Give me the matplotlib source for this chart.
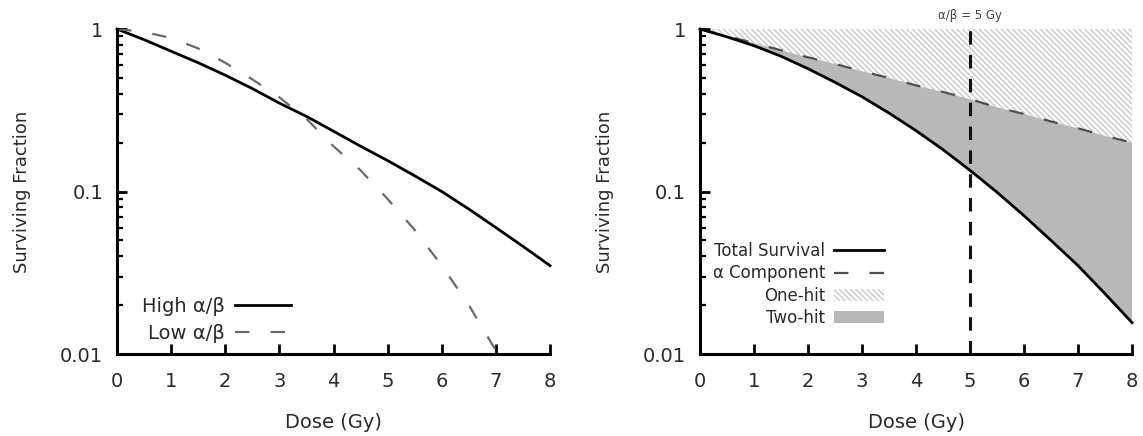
import matplotlib.pyplot as plt
from matplotlib.patches import Patch
from matplotlib.lines import Line2D

# Dose points (Gy)
dose = [0, 0.5, 1, 1.5, 2, 2.5, 3, 3.5, 4, 4.5, 5, 5.5, 6, 6.5, 7, 7.5, 8]

# Left panel: surviving fraction for high / low alpha/beta tissue
high_ab = [1, 0.86, 0.73, 0.62, 0.52, 0.43, 0.35, 0.29, 0.235, 0.19,
           0.155, 0.125, 0.10, 0.078, 0.06, 0.046, 0.035]
dose_low = [0, 0.5, 1, 1.5, 2, 2.5, 3, 3.5, 4, 4.5, 5, 5.5, 6, 6.5, 7]
low_ab = [1, 0.96, 0.88, 0.76, 0.62, 0.49, 0.38, 0.28, 0.19, 0.135,
          0.09, 0.058, 0.035, 0.02, 0.0105]

# Right panel: total survival and alpha component
total_surv = [1, 0.895, 0.79, 0.68, 0.57, 0.47, 0.383, 0.304, 0.237, 0.181,
              0.135, 0.099, 0.071, 0.05, 0.035, 0.0235, 0.0156]
alpha_comp = [1, 0.905, 0.82, 0.74, 0.67, 0.61, 0.55, 0.5, 0.45, 0.41,
              0.37, 0.33, 0.30, 0.27, 0.245, 0.22, 0.20]
ab_ratio = 5

xticks = [0, 1, 2, 3, 4, 5, 6, 7, 8]
yticks = [0.01, 0.1, 1]
ytick_labels = ['0.01', '0.1', '1']

plt.rcParams['font.family'] = 'DejaVu Sans'
plt.rcParams['hatch.color'] = '#c8c8c8'
plt.rcParams['hatch.linewidth'] = 1.0

HATCH = '\\' * 6
GREY_FILL = '#b8b8b8'
TEXT_COL = '#2a2a2a'

fig = plt.figure(figsize=(11.43, 4.36), dpi=100)
ax1 = fig.add_axes([0.1024, 0.188, 0.3788, 0.7454])
ax2 = fig.add_axes([0.6124, 0.188, 0.378, 0.7454])


def style_axes(ax):
    ax.set_yscale('log')
    ax.set_xlim(0, 8)
    ax.set_ylim(0.01, 1)
    ax.set_xticks(xticks)
    ax.set_yticks(yticks)
    ax.set_yticklabels(ytick_labels)
    ax.spines['top'].set_visible(False)
    ax.spines['right'].set_visible(False)
    ax.spines['left'].set_linewidth(2.2)
    ax.spines['bottom'].set_linewidth(2.2)
    ax.tick_params(which='major', direction='in', length=7, width=2,
                   labelsize=14, labelcolor=TEXT_COL)
    ax.tick_params(axis='x', which='major', pad=13)
    ax.tick_params(axis='y', which='major', pad=10)
    ax.tick_params(which='minor', direction='in', length=4, width=1.6)
    ax.tick_params(axis='x', which='minor', bottom=False)
    ax.set_xlabel('Dose (Gy)', fontsize=14, labelpad=16, color=TEXT_COL)
    ax.set_ylabel('Surviving Fraction', fontsize=13, labelpad=21, color=TEXT_COL)


# Left panel
ax1.plot(dose, high_ab, color='black', lw=2, label='High α/β', clip_on=False)
ax1.plot(dose_low, low_ab, color='#6a6a6a', lw=1.6, dashes=(6.5, 9.5),
         label='Low α/β')
style_axes(ax1)
ax1.legend(loc='upper left', bbox_to_anchor=(0.017, 0.23), markerfirst=False,
           frameon=False, fontsize=14, handlelength=2.9, handletextpad=0.5,
           labelspacing=0.4, borderpad=0.4, labelcolor=TEXT_COL)

# Right panel
ax2.fill_between(dose, alpha_comp, 1, facecolor='white', hatch=HATCH,
                 edgecolor='#c8c8c8', linewidth=0)
ax2.fill_between(dose, total_surv, alpha_comp, facecolor=GREY_FILL,
                 linewidth=0)
ax2.plot(dose, alpha_comp, color='#505050', lw=1.6, dashes=(6.5, 9.5))
ax2.plot(dose, total_surv, color='black', lw=2, clip_on=False)
ax2.axvline(ab_ratio, color='#111111', lw=2.2, dashes=(4.4, 3.4))
ax2.text(ab_ratio, 1.1, 'α/β = 5 Gy', ha='center', va='bottom', fontsize=8.5,
         color='#444444')
style_axes(ax2)

handles = [
    Line2D([], [], color='black', lw=2),
    Line2D([], [], color='#505050', lw=1.6, dashes=(6.5, 9.5)),
    Patch(facecolor='white', hatch=HATCH, edgecolor='#c8c8c8', linewidth=0),
    Patch(facecolor=GREY_FILL, linewidth=0),
]
labels = ['Total Survival', 'α Component', 'One-hit', 'Two-hit']
leg = ax2.legend(handles, labels, loc='upper right', bbox_to_anchor=(0.46, 0.39),
                 markerfirst=False, frameon=False, fontsize=12,
                 handlelength=3.0, handletextpad=0.5, labelspacing=0.25,
                 borderpad=0.4, labelcolor=TEXT_COL)
leg._legend_box.align = 'right'

fig.savefig('out.png', dpi=100)
